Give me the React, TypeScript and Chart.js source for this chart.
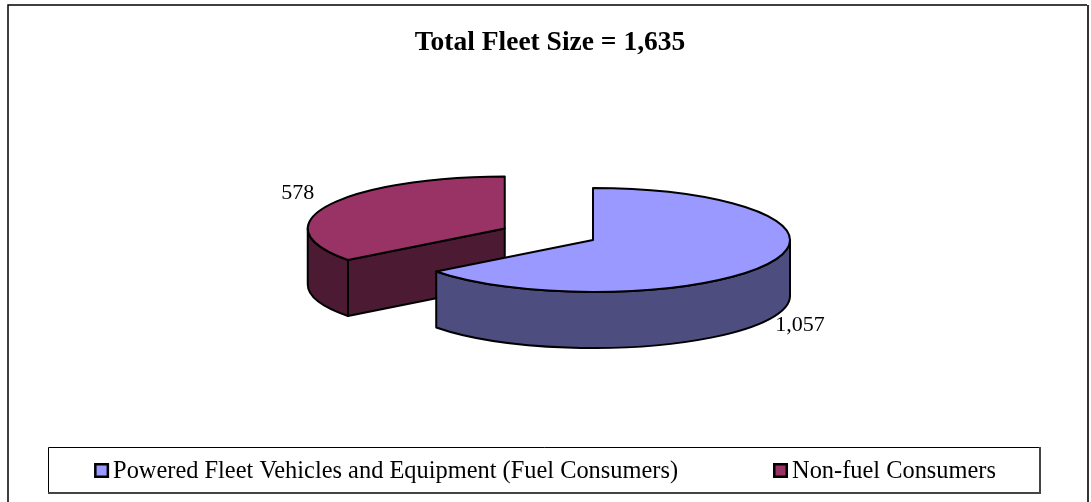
import React, { useEffect, useRef } from 'react';
import { Chart, registerables } from 'chart.js';

Chart.register(...registerables);

// ---- data ----
const categories = [
  'Powered Fleet Vehicles and Equipment (Fuel Consumers)',
  'Non-fuel Consumers',
];
const fleetCounts = [1057, 578];
const sliceColors = ['#9999FF', '#993366'];
const explodeFractions = [0, 0.5];
const titleText = 'Total Fleet Size = 1,635';

// ---- layout / style ----
const SERIF = '"Liberation Serif", "Times New Roman", Times, serif';
const PIE = { cx: 593, cy: 240, rx: 197, ry: 52, depth: 56 };
const LEG = { left: 48, top: 447, right: 1040, bottom: 493, box: 15, gap: 4, spacing: 95, fontSize: 24.4, baseline: 478 };

function shade(hex: string, f: number) {
  const n = parseInt(hex.slice(1), 16);
  const r = Math.round(((n >> 16) & 255) * f);
  const g = Math.round(((n >> 8) & 255) * f);
  const b = Math.round((n & 255) * f);
  return `rgb(${r},${g},${b})`;
}

const pie3d = {
  id: 'pie3d',
  beforeDatasetsDraw(chart: any) {
    const ctx = chart.ctx as CanvasRenderingContext2D;
    const meta = chart.getDatasetMeta(0);
    const ds = chart.data.datasets[0];
    const { rx, ry, depth } = PIE;
    const slices = meta.data.map((arc: any, i: number) => {
      const p = arc.getProps(['startAngle', 'endAngle'], true);
      const a0 = p.startAngle;
      const a1 = p.endAngle;
      const mid = (a0 + a1) / 2;
      const ex = explodeFractions[i] || 0;
      return {
        i,
        a0,
        a1,
        mid,
        cx: PIE.cx + Math.cos(mid) * ex * rx,
        cy: PIE.cy + Math.sin(mid) * ex * ry,
        color: ds.backgroundColor[i],
        value: ds.data[i],
      };
    });
    const order = [...slices].sort((a, b) => a.cy - b.cy);
    ctx.save();
    ctx.lineWidth = 2;
    ctx.strokeStyle = '#000';
    ctx.lineJoin = 'round';
    for (const s of order) {
      const dark = shade(s.color, 0.5);
      const faces = [
        { a: s.a0, n: s.a0 - Math.PI / 2 },
        { a: s.a1, n: s.a1 + Math.PI / 2 },
      ];
      for (const f of faces) {
        if (Math.sin(f.n) > 1e-6) {
          const px = s.cx + rx * Math.cos(f.a);
          const py = s.cy + ry * Math.sin(f.a);
          ctx.beginPath();
          ctx.moveTo(s.cx, s.cy);
          ctx.lineTo(px, py);
          ctx.lineTo(px, py + depth);
          ctx.lineTo(s.cx, s.cy + depth);
          ctx.closePath();
          ctx.fillStyle = dark;
          ctx.fill();
          ctx.stroke();
        }
      }
      for (let k = -1; k <= 1; k++) {
        const st = Math.max(s.a0, 2 * Math.PI * k);
        const en = Math.min(s.a1, 2 * Math.PI * k + Math.PI);
        if (en - st > 1e-4) {
          ctx.beginPath();
          ctx.ellipse(s.cx, s.cy, rx, ry, 0, st, en, false);
          ctx.lineTo(s.cx + rx * Math.cos(en), s.cy + ry * Math.sin(en) + depth);
          ctx.ellipse(s.cx, s.cy + depth, rx, ry, 0, en, st, true);
          ctx.closePath();
          ctx.fillStyle = dark;
          ctx.fill();
          ctx.stroke();
        }
      }
      ctx.beginPath();
      ctx.moveTo(s.cx, s.cy);
      ctx.ellipse(s.cx, s.cy, rx, ry, 0, s.a0, s.a1, false);
      ctx.closePath();
      ctx.fillStyle = s.color;
      ctx.fill();
      ctx.stroke();
    }
    ctx.fillStyle = '#000';
    ctx.font = `22px ${SERIF}`;
    ctx.textAlign = 'center';
    ctx.textBaseline = 'middle';
    for (const s of slices) {
      const c = Math.cos(s.mid);
      const sn = Math.sin(s.mid);
      const x = s.cx + rx * c + c * 34;
      const y = s.cy + ry * sn + sn * 20 - 3 + (sn > 0 ? depth : 0);
      ctx.fillText(Number(s.value).toLocaleString('en-US'), x, y);
    }
    ctx.restore();
    return false;
  },
  afterDraw(chart: any) {
    const ctx = chart.ctx as CanvasRenderingContext2D;
    const ds = chart.data.datasets[0];
    const labels: string[] = chart.data.labels;
    ctx.save();
    ctx.strokeStyle = '#000';
    ctx.lineWidth = 1.5;
    ctx.beginPath();
    ctx.moveTo(8, 510);
    ctx.lineTo(8, 5);
    ctx.lineTo(1087, 5);
    ctx.stroke();
    ctx.strokeStyle = '#333';
    ctx.lineWidth = 2;
    ctx.beginPath();
    ctx.moveTo(1088, 5);
    ctx.lineTo(1088, 510);
    ctx.stroke();
    ctx.strokeStyle = '#000';
    ctx.lineWidth = 1;
    ctx.beginPath();
    ctx.moveTo(LEG.left + 0.5, LEG.bottom);
    ctx.lineTo(LEG.left + 0.5, LEG.top + 0.5);
    ctx.lineTo(LEG.right, LEG.top + 0.5);
    ctx.stroke();
    ctx.strokeStyle = '#444';
    ctx.lineWidth = 2;
    ctx.beginPath();
    ctx.moveTo(LEG.right, LEG.top);
    ctx.lineTo(LEG.right, LEG.bottom);
    ctx.lineTo(LEG.left, LEG.bottom);
    ctx.stroke();
    ctx.font = `${LEG.fontSize}px ${SERIF}`;
    const widths = labels.map((l) => ctx.measureText(l).width);
    let total = 0;
    widths.forEach((w, i) => {
      total += LEG.box + LEG.gap + w + (i < widths.length - 1 ? LEG.spacing : 0);
    });
    let x = (LEG.left + LEG.right) / 2 + 1 - total / 2;
    ctx.textAlign = 'left';
    ctx.textBaseline = 'alphabetic';
    labels.forEach((l, i) => {
      const by = LEG.baseline - LEG.box;
      ctx.fillStyle = ds.backgroundColor[i];
      ctx.fillRect(x, by, LEG.box, LEG.box);
      ctx.strokeStyle = '#000';
      ctx.lineWidth = 2.5;
      ctx.strokeRect(x + 1.25, by + 1.25, LEG.box - 2.5, LEG.box - 2.5);
      ctx.fillStyle = '#000';
      ctx.fillText(l, x + LEG.box + LEG.gap, LEG.baseline);
      x += LEG.box + LEG.gap + widths[i] + LEG.spacing;
    });
    ctx.restore();
  },
};

export default function App() {
  const ref = useRef<HTMLCanvasElement | null>(null);
  useEffect(() => {
    if (!ref.current) return;
    const chart = new Chart(ref.current, {
      type: 'pie',
      data: {
        labels: categories,
        datasets: [
          {
            data: fleetCounts,
            backgroundColor: sliceColors,
            borderColor: '#000',
            borderWidth: 2,
          },
        ],
      },
      options: {
        animation: false,
        responsive: true,
        maintainAspectRatio: false,
        layout: { padding: { top: 0, bottom: 60, left: 9, right: 0 } },
        plugins: {
          legend: { display: false },
          tooltip: { enabled: false },
          title: {
            display: true,
            text: titleText,
            color: '#000',
            font: { family: SERIF, size: 27.5, weight: 'bold' },
            padding: { top: 26, bottom: 10 },
          },
        },
      },
      plugins: [pie3d],
    } as any);
    return () => chart.destroy();
  }, []);
  return (
    <div style={{ position: 'absolute', left: 0, top: 0, width: 1091, height: 502, background: '#fff' }}>
      <canvas ref={ref} />
    </div>
  );
}
